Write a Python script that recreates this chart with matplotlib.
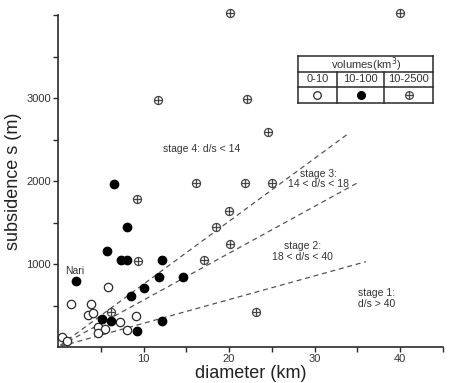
import matplotlib
matplotlib.use("Agg")
import matplotlib.pyplot as plt
from matplotlib.lines import Line2D

plt.rcParams['font.family'] = ['Liberation Sans', 'DejaVu Sans']

# volumes 0-10 km3 (open circles)
open_d = [5.8, 1.5, 3.9, 3.5, 4.1, 9.1, 7.2, 4.7, 5.5, 8.1, 4.7, 0.5, 1.1]
open_s = [720, 514, 514, 380, 405, 373, 305, 245, 217, 205, 172, 116, 76]

# volumes 10-100 km3 (filled circles)
filled_d = [6.5, 8.1, 5.7, 7.4, 8.1, 12.1, 2.1, 11.8, 14.6, 10.1, 8.5, 5.1, 6.2, 12.1, 9.2]
filled_s = [1960, 1450, 1157, 1044, 1044, 1044, 799, 840, 846, 714, 614, 337, 317, 313, 196]

# volumes 10-2500 km3 (crossed circles)
crossed_d = [20.1, 40.0, 11.7, 22.1, 16.1, 21.8, 25.0, 24.5, 9.2, 20.0, 18.5, 20.1, 17.1, 23.1, 9.3, 6.2]
crossed_s = [4020, 4020, 2976, 2988, 1976, 1976, 1976, 2590, 1783, 1643, 1450, 1241, 1048, 425, 1040, 425]

# stage boundaries: d/s ratio of each dashed line and where it stops (km)
stage_ratio = [35.0, 17.7, 13.2]
stage_end = [36.0, 35.2, 33.8]

dark = '#2a2a2a'
grey = '#444444'

fig = plt.figure(figsize=(4.51, 3.83), dpi=100)
ax = fig.add_axes([58 / 451, 36 / 383, 385 / 451, 332 / 383])


def px(x, y):
    # pixel position in the figure -> figure fraction
    return x / 451, 1 - y / 383


# dashed stage lines
for r, end in zip(stage_ratio, stage_end):
    ax.plot([0.3, end], [0.3 / r * 1000, end / r * 1000], ls=(0, (4, 3)),
            color='#555555', lw=0.9, zorder=1)

ax.plot(open_d, open_s, 'o', ms=6.0, mfc='white', mec=dark, mew=0.9,
        ls='none', zorder=3, clip_on=False)
ax.plot(filled_d, filled_s, 'o', ms=6.0, mfc='black', mec='black',
        ls='none', zorder=3, clip_on=False)
ax.plot(crossed_d, crossed_s, 'o', ms=5.8, mfc='white', mec=grey, mew=0.9,
        ls='none', zorder=3, clip_on=False)
ax.plot(crossed_d, crossed_s, '+', ms=5.8, mec=grey, mew=0.9,
        ls='none', zorder=4, clip_on=False)

# annotations
txt = dict(fontsize=7.5, color='#333333', ha='center', va='center', linespacing=1.1)
ax.text(2.0, 910, 'Nari', **txt)
ax.text(16.8, 2386, 'stage 4: d/s < 14', **txt)
ax.text(30.4, 2024, 'stage 3:\n14 < d/s < 18', **txt)
ax.text(28.6, 1150, 'stage 2:\n18 < d/s < 40', **txt)
ax.text(37.2, 580, 'stage 1:\nd/s > 40', **txt)

ax.set_xlim(0, 45)
ax.set_ylim(0, 4000)
ax.set_xticks(range(5, 46, 5))
ax.set_xticklabels(['' if v % 10 else str(v) for v in range(5, 46, 5)])
ax.set_yticks(range(500, 4001, 500))
ax.set_yticklabels(['' if v % 1000 or v == 4000 else str(v) for v in range(500, 4001, 500)])
ax.tick_params(direction='out', length=3.5, width=1, color=dark,
               labelsize=8, labelcolor='#333333', pad=1.5)
for s in ['top', 'right']:
    ax.spines[s].set_visible(False)
for s in ['left', 'bottom']:
    ax.spines[s].set_color(dark)
    ax.spines[s].set_linewidth(1.2)

ax.set_xlabel('diameter (km)', fontsize=13, color='#222222', labelpad=1)
ax.set_ylabel('subsidence s (m)', fontsize=13, color='#222222', labelpad=3)

# legend drawn as a small table
x0, x1, c1, c2 = 298, 433, 336.7, 384.3
y0, y1, y2, y3 = 55.7, 72.3, 86.5, 102.7
lk = dict(color=dark, lw=1.1, transform=fig.transFigure)
for xa, ya, xb, yb in [(x0, y0, x1, y0), (x0, y1, x1, y1), (x0, y2, x1, y2),
                       (x0, y3, x1, y3), (x0, y0, x0, y3), (x1, y0, x1, y3),
                       (c1, y1, c1, y3), (c2, y1, c2, y3)]:
    (fx0, fy0), (fx1, fy1) = px(xa, ya), px(xb, yb)
    fig.add_artist(Line2D([fx0, fx1], [fy0, fy1], **lk))

tt = dict(fontsize=8, color='#333333', ha='center', va='center')
fig.text(*px(366, 64.5), 'volumes(km$^3$)', **tt)
for cx, lab in zip([(x0 + c1) / 2, (c1 + c2) / 2, (c2 + x1) / 2], ['0-10', '10-100', '10-2500']):
    fig.text(*px(cx, 79.5), lab, **tt)
ym = 95
fig.add_artist(Line2D(*zip(px((x0 + c1) / 2, ym)), marker='o', ms=5.5, mfc='white',
                      mec=dark, mew=0.9, transform=fig.transFigure))
fig.add_artist(Line2D(*zip(px((c1 + c2) / 2, ym)), marker='o', ms=5.5, mfc='black',
                      mec='black', transform=fig.transFigure))
fig.add_artist(Line2D(*zip(px((c2 + x1) / 2, ym)), marker='o', ms=5.5, mfc='white',
                      mec=grey, mew=0.9, transform=fig.transFigure))
fig.add_artist(Line2D(*zip(px((c2 + x1) / 2, ym)), marker='+', ms=5.5,
                      mec=grey, mew=0.9, transform=fig.transFigure))

fig.savefig('out.png', dpi=100)
